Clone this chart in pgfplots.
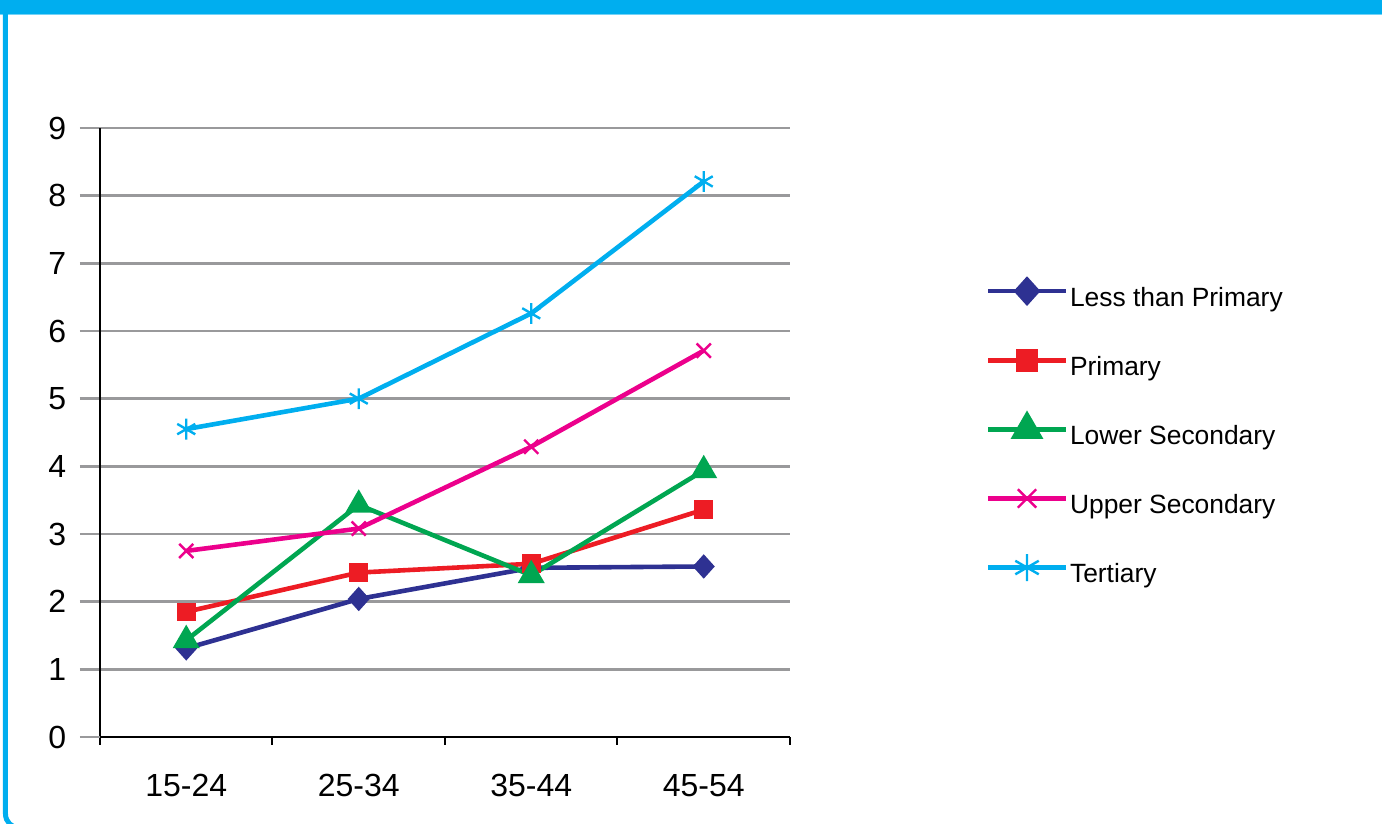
\documentclass[border=0pt]{standalone}
\usepackage{fontspec}
\setmainfont{Liberation Sans}
\usepackage{pgfplots}
\pgfplotsset{compat=1.18}

\definecolor{frameBlue}{RGB}{0,174,239}
\definecolor{lessPrim}{RGB}{46,49,146}
\definecolor{prim}{RGB}{237,28,36}
\definecolor{lowSec}{RGB}{0,166,81}
\definecolor{upSec}{RGB}{236,0,140}
\definecolor{tert}{RGB}{0,174,239}
\definecolor{gridGrey}{RGB}{153,153,155}

\begin{document}
\begin{tikzpicture}
\useasboundingbox (-50pt,-43.5pt) rectangle (641pt,368.5pt);
% frame
\fill[frameBlue] (-50pt,361.5pt) rectangle (641pt,368.5pt);
\draw[frameBlue!55, line width=0.6pt] (-50pt,361.2pt) -- (641pt,361.2pt);
\draw[frameBlue, line width=2.5pt, rounded corners=7pt]
	(-47.25pt,362pt) -- (-47.25pt,-45.5pt) -- (100pt,-45.5pt);

\begin{axis}[
	at={(0pt,0pt)}, anchor=south west,
	scale only axis, width=345pt, height=304.5pt,
	xmin=-0.5, xmax=3.5, ymin=0, ymax=9,
	axis x line=bottom, axis y line=left,
	x axis line style={-}, y axis line style={-},
	axis line style={black, line width=1pt},
	tick align=outside,
	major tick length=10pt, minor tick length=4pt,
	xtick={0,1,2,3},
	xticklabels={15-24,25-34,35-44,45-54},
	minor xtick={-0.5,0.5,1.5,2.5,3.5},
	major x tick style={draw=none},
	minor x tick style={black, line width=1pt},
	ytick={1,...,9},
	extra y ticks={0},
	extra y tick style={grid=none, tick style={draw=none}},
	major y tick style={draw=gridGrey, line width=1.2pt},
	ymajorgrids, major grid style={gridGrey, line width=1.2pt},
	/pgf/number format/assume math mode=true,
	tick label style={font=\fontsize{16}{19}\selectfont},
	xticklabel style={anchor=base, yshift=-20pt},
	yticklabel style={xshift=-3.4pt},
	every axis plot/.append style={line width=2.3pt},
	legend image code/.code={
		\path[draw=none, fill=none] (0pt,-3pt) rectangle (39pt,10pt);
		\draw[overlay, mark repeat=2, mark phase=2] plot coordinates {(0pt,4pt) (19.5pt,4pt) (39pt,4pt)};
	},
	legend style={
		at={(1.2870,0.7518)}, anchor=north west,
		draw=none, fill=none, inner sep=0pt, outer sep=0pt,
		font=\fontsize{13.2}{16}\selectfont,
		nodes={inner sep=0pt, text height=10pt, text depth=3pt},
		row sep=18.05pt, column sep=2pt,
	},
	legend cell align=left,
	legend image post style={every mark/.append style={scale=1.3}},
]

\addplot[color=lessPrim, mark=diamond*, mark size=4.4pt, mark options={solid, xscale=1.2}]
	coordinates {(0,1.31) (1,2.04) (2,2.50) (3,2.52)};
\addlegendentry{Less than Primary}

\addplot[color=prim, mark=square*, mark size=3.5pt, mark options={solid}]
	coordinates {(0,1.85) (1,2.43) (2,2.56) (3,3.36)};
\addlegendentry{Primary}

\addplot[color=lowSec, mark=triangle*, mark size=5.5pt, mark options={solid}]
	coordinates {(0,1.43) (1,3.43) (2,2.39) (3,3.94)};
\addlegendentry{Lower Secondary}

\addplot[color=upSec, mark=x, mark size=5pt, mark options={solid, line width=1.2pt}]
	coordinates {(0,2.75) (1,3.08) (2,4.29) (3,5.71)};
\addlegendentry{Upper Secondary}

\addplot[color=tert, mark=asterisk, mark size=5.2pt, mark options={solid, line width=1.2pt}]
	coordinates {(0,4.55) (1,5.00) (2,6.26) (3,8.21)};
\addlegendentry{Tertiary}

\end{axis}
\end{tikzpicture}
\end{document}
